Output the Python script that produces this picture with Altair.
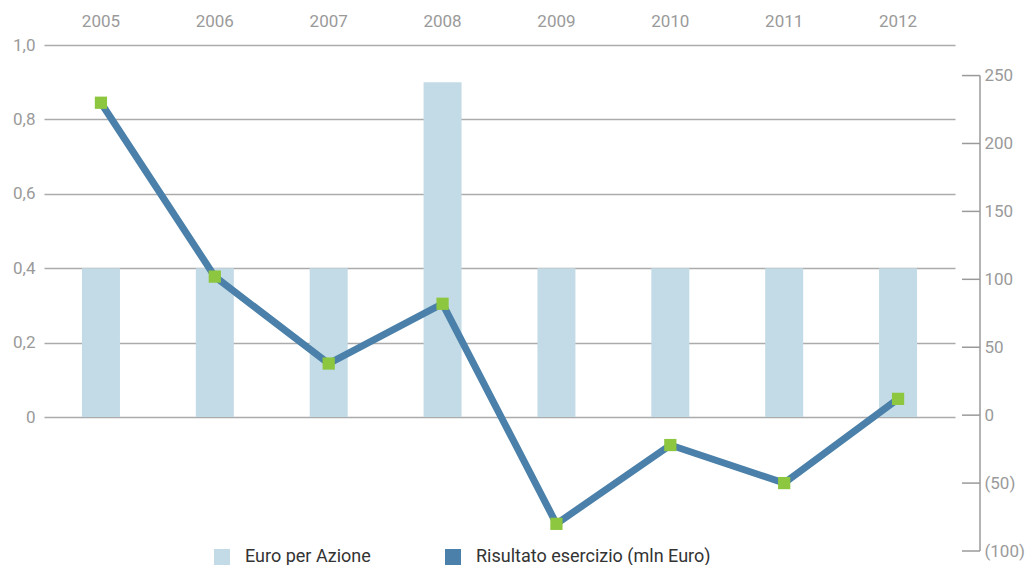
import altair as alt
import pandas as pd

years = ["2005", "2006", "2007", "2008", "2009", "2010", "2011", "2012"]
euro_per_azione = [0.4, 0.4, 0.4, 0.9, 0.4, 0.4, 0.4, 0.4]
risultato = [230, 102, 38, 82, -80, -22, -50, 12]
left_ticks = [0, 0.2, 0.4, 0.6, 0.8, 1.0]
right_ticks = [-100, -50, 0, 50, 100, 150, 200, 250]
series_names = ["Euro per Azione", "Risultato esercizio (mln Euro)"]

FONT = "Roboto"
GREY = "#9a9a9a"
LIGHT = "#c3dbe6"
DARK = "#4a80a9"
GREEN = "#8dc63f"

W, H = 911, 506

df = pd.DataFrame({
    "year": years,
    "eps": euro_per_azione,
    "res": risultato,
    "series": [series_names[0]] * len(years),
})
ticks_df = pd.DataFrame({"tick": right_ticks})

x_enc = alt.X(
    "year:N",
    sort=years,
    scale=alt.Scale(paddingInner=0, paddingOuter=0),
    axis=alt.Axis(
        orient="top", title=None, domain=False, ticks=False, labelAngle=0,
        labelPadding=15, labelFontSize=17, labelColor=GREY, labelFont=FONT,
        grid=False,
    ),
)

bars = alt.Chart(df).mark_bar(size=38).encode(
    x=x_enc,
    y=alt.Y(
        "eps:Q",
        scale=alt.Scale(domain=[-0.36, 1.0], nice=False, zero=False),
        axis=alt.Axis(
            orient="left", title=None, values=left_ticks, domain=False,
            ticks=False, tickSize=0, labelPadding=9, labelFontSize=17,
            labelColor=GREY, labelFont=FONT, grid=True, gridColor="#ababab",
            gridWidth=1.5,
            labelExpr="datum.value == 0 ? '0' : replace(format(datum.value, '.1f'), '.', ',')",
        ),
    ),
    color=alt.Color(
        "series:N",
        scale=alt.Scale(domain=series_names, range=[LIGHT, DARK]),
        legend=alt.Legend(
            title=None, orient="none", legendX=169, legendY=503,
            direction="horizontal", symbolType="square", symbolSize=256,
            symbolStrokeWidth=0, labelFontSize=18, labelColor="#333333",
            labelFont=FONT, labelOffset=14, columnPadding=73, labelLimit=500,
        ),
    ),
)

y_right = alt.Y(
    "res:Q",
    scale=alt.Scale(domain=[-100, 272.5], nice=False, zero=False),
    axis=alt.Axis(
        orient="right", title=None, values=right_ticks, domain=False,
        ticks=False, tickSize=0, offset=25, labelPadding=4, labelAlign="left",
        labelFontSize=17, labelColor=GREY, labelFont=FONT, grid=False,
        labelExpr="datum.value < 0 ? '(' + format(-datum.value, 'd') + ')' : '\u2009' + format(datum.value, 'd')",
    ),
)

line = alt.Chart(df).mark_line(color=DARK, strokeWidth=7).encode(x=x_enc, y=y_right)
points = alt.Chart(df).mark_square(color=GREEN, size=150, opacity=1).encode(x=x_enc, y=y_right)

tick_marks = alt.Chart(ticks_df).mark_rule(color=GREY, strokeWidth=1.5).encode(
    x=alt.value(W + 7), x2=alt.value(W + 25),
    y=alt.Y("tick:Q"),
)
domain_line = alt.Chart(ticks_df).mark_rule(color=GREY, strokeWidth=1.5).encode(
    x=alt.value(W + 25),
    y=alt.Y("max(tick):Q"),
    y2=alt.Y2("min(tick):Q"),
)

right = alt.layer(line, points, tick_marks, domain_line)

chart = alt.layer(bars, right).resolve_scale(y="independent").properties(
    width=W, height=H,
    autosize=alt.AutoSizeParams(type="none"),
    padding={"left": 36, "top": 37, "right": 71, "bottom": 14},
    view=alt.ViewBackground(strokeOpacity=0, strokeWidth=0),
).configure_view(strokeOpacity=0, strokeWidth=0).configure(background="white")

chart.save("out.html", embed_options={"renderer": "svg", "actions": False})
